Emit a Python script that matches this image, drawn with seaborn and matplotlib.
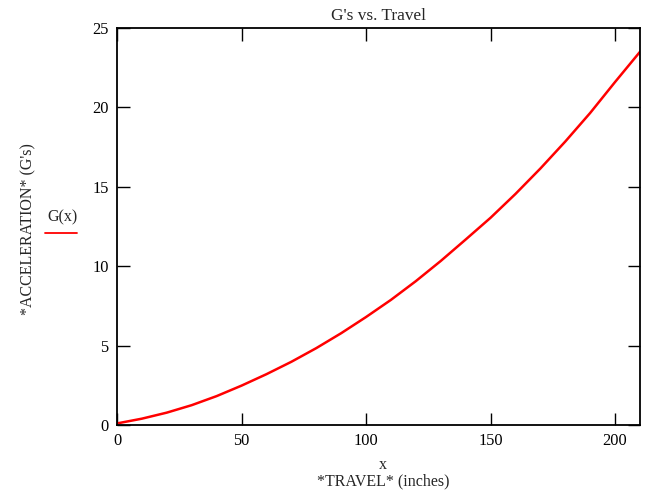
import numpy as np
import pandas as pd
import matplotlib.pyplot as plt
import seaborn as sns

# travel (inches) and acceleration (G's)
travel = [0, 10, 20, 30, 40, 50, 60, 70, 80, 90, 100,
          110, 120, 130, 140, 150, 160, 170, 180, 190, 200, 210]
accel = [0.1, 0.4, 0.78, 1.25, 1.82, 2.48, 3.2, 3.98, 4.84, 5.78, 6.8,
         7.88, 9.06, 10.33, 11.68, 13.05, 14.55, 16.15, 17.85, 19.65, 21.6, 23.5]

x_ticks = [0, 50, 100, 150, 200]
y_ticks = [0, 5, 10, 15, 20, 25]

df = pd.DataFrame({"x": travel, "G": accel})

sns.set_style("ticks")
plt.rcParams['font.family'] = ['Liberation Serif', 'DejaVu Serif']

fig = plt.figure(figsize=(6.45, 4.93), dpi=100)
ax = fig.add_axes([0.1814, 0.1379, 0.9922 - 0.1814, 0.9432 - 0.1379])

sns.lineplot(data=df, x="x", y="G", ax=ax, color="red", linewidth=1.8)

ax.set_xlim(0, 210)
ax.set_ylim(0, 25)
ax.set_xticks(x_ticks)
ax.set_yticks(y_ticks)
ax.tick_params(direction="in", length=9, width=1, top=True, right=True,
               labelsize=11.8, colors="black", pad=6)
for s in ax.spines.values():
    s.set_linewidth(1.3)
    s.set_color("black")

ax.set_xlabel("")
ax.set_ylabel("")
ax.set_title("G's vs. Travel", fontsize=12.4, pad=6)

# axis titles in the Mathcad style
fig.text(383 / 645, 1 - 465 / 493, "x", ha="center", va="center", fontsize=11.5)
fig.text(383 / 645, 1 - 481 / 493, "*TRAVEL* (inches)", ha="center", va="center", fontsize=11.5)
fig.text(28 / 645, 1 - 229 / 493, "*ACCELERATION* (G's)", rotation=90,
         ha="center", va="center", fontsize=11.5)

# trace legend to the left of the axis
fig.text(62 / 645, 1 - 217 / 493, "G(x)", ha="center", va="center", fontsize=11.5)
fig.add_artist(plt.Line2D([45 / 645, 77 / 645], [1 - 233 / 493, 1 - 233 / 493],
                          color="red", linewidth=1.3))

fig.savefig("out.png", dpi=100)
